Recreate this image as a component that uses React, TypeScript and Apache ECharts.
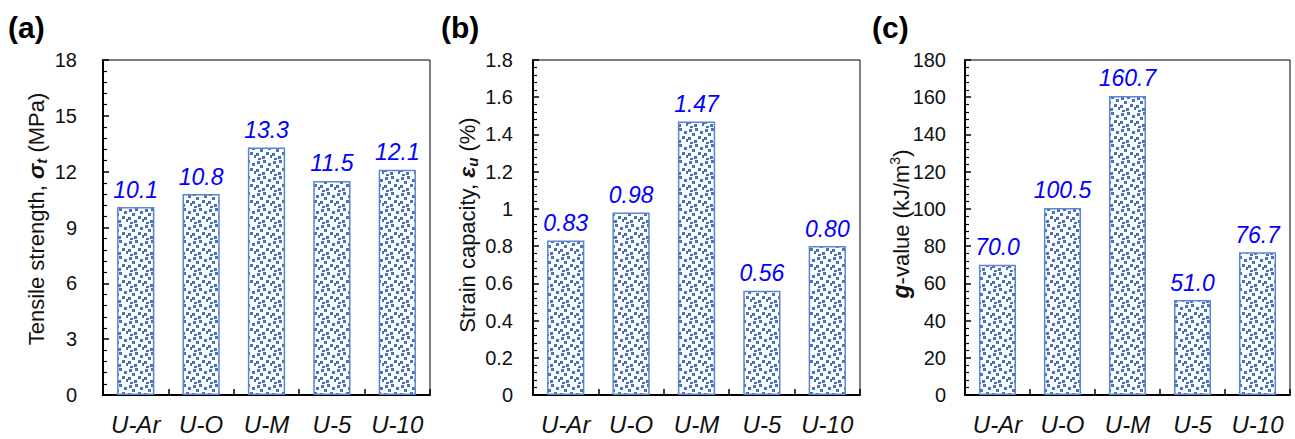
import React, { useEffect, useRef } from "react";
import * as echarts from "echarts";

// Specimen groups shared by all three panels
const categories = ["U-Ar", "U-O", "U-M", "U-5", "U-10"];

// (a) tensile strength, MPa
const tensileStrength = [10.1, 10.8, 13.3, 11.5, 12.1];
// (b) strain capacity, %
const strainCapacity = [0.83, 0.98, 1.47, 0.56, 0.8];
// (c) g-value, kJ/m3
const gValue = [70.0, 100.5, 160.7, 51.0, 76.7];

const FONT = "'Liberation Sans', Arial, Helvetica, sans-serif";
const BLUE = "#4472C4";

// Confetti fill used inside every bar
function makeConfetti(): HTMLCanvasElement {
  const c = document.createElement("canvas");
  c.width = 16;
  c.height = 16;
  const ctx = c.getContext("2d")!;
  ctx.fillStyle = "#ffffff";
  ctx.fillRect(0, 0, 16, 16);
  ctx.fillStyle = BLUE;
  const dots = [
    [1, 1], [7, 0], [12, 3], [4, 5], [10, 8], [0, 9], [14, 11], [6, 12], [2, 14],
  ];
  dots.forEach(([x, y]) => ctx.fillRect(x, y, 3, 3));
  return c;
}

export default function App() {
  const ref = useRef<HTMLDivElement>(null);

  useEffect(() => {
    if (!ref.current) return;
    const chart = echarts.init(ref.current, undefined, { renderer: "svg" });
    const pattern = { image: makeConfetti(), repeat: "repeat" } as any;

    const grids = [
      { left: 103, top: 60, width: 327, height: 335 },
      { left: 533, top: 60, width: 327, height: 335 },
      { left: 965, top: 60, width: 325, height: 335 },
    ];
    const yAxes = [
      { max: 18, interval: 3, margin: 26 },
      { max: 1.8, interval: 0.2, margin: 20 },
      { max: 180, interval: 20, margin: 19 },
    ];
    const seriesData = [tensileStrength, strainCapacity, gValue];
    const digits = [1, 2, 1];

    const axisText = { color: "#111", fontFamily: FONT };

    const titleRich = {
      n: { fontSize: 22, fontFamily: FONT, lineHeight: 26, fill: "#111" },
      s: { fontSize: 23, fontFamily: FONT, fontWeight: "bold", fontStyle: "italic", lineHeight: 26, fill: "#111" },
      sub: { fontSize: 15, fontFamily: FONT, fontWeight: "bold", fontStyle: "italic", lineHeight: 16, verticalAlign: "bottom", fill: "#111" },
      sup: { fontSize: 14, fontFamily: FONT, lineHeight: 14, verticalAlign: "top", fill: "#111" },
    };

    const option: any = {
      animation: false,
      backgroundColor: "#ffffff",
      grid: grids.map((g) => ({
        ...g,
        show: true,
        borderColor: "#000",
        borderWidth: 1,
        backgroundColor: "transparent",
      })),
      xAxis: grids.map((_, i) => ({
        type: "category",
        gridIndex: i,
        data: categories,
        boundaryGap: true,
        axisLine: { lineStyle: { color: "#000", width: 2 } },
        axisTick: { show: true, inside: true, length: 6, lineStyle: { color: "#000", width: 1.5 } },
        axisLabel: {
          ...axisText,
          fontSize: 24,
          fontStyle: "italic",
          margin: 17,
          interval: 0,
          hideOverlap: false,
        },
        splitLine: { show: false },
      })),
      yAxis: yAxes.map((y, i) => ({
        type: "value",
        gridIndex: i,
        min: 0,
        max: y.max,
        interval: y.interval,
        axisLine: { show: true, lineStyle: { color: "#000", width: 2 } },
        axisTick: { show: true, inside: true, length: 6, lineStyle: { color: "#000", width: 1.5 } },
        minorTick: { show: true, splitNumber: 5, length: 4, lineStyle: { color: "#000", width: 1.2 } },
        axisLabel: { ...axisText, fontSize: 20, margin: y.margin },
        splitLine: { show: false },
        minorSplitLine: { show: false },
      })),
      series: seriesData.map((d, i) => ({
        type: "bar",
        xAxisIndex: i,
        yAxisIndex: i,
        data: d,
        barWidth: "57%",
        itemStyle: { color: pattern, borderColor: "#5B85D0", borderWidth: 1.5 },
        label: {
          show: true,
          position: "top",
          distance: 6,
          color: "#0000FF",
          fontStyle: "italic",
          fontSize: 23,
          fontFamily: FONT,
          formatter: (p: any) => Number(p.value).toFixed(digits[i]),
        },
      })),
      graphic: [
        ...["(a)", "(b)", "(c)"].map((t, i) => ({
          type: "text",
          x: [8, 441, 872][i],
          y: 12,
          style: { text: t, fontSize: 30, fontWeight: "bold", fontFamily: FONT, fill: "#000" },
        })),
        {
          type: "text",
          x: 36,
          y: 219,
          rotation: Math.PI / 2,
          style: {
            text: "{n|Tensile strength, }{s|σ}{sub|t}{n| (MPa)}",
            align: "center",
            verticalAlign: "middle",
            fill: "#111",
            rich: titleRich,
          },
        },
        {
          type: "text",
          x: 467,
          y: 225,
          rotation: Math.PI / 2,
          style: {
            text: "{n|Strain capacity, }{s|ε}{sub|u}{n| (%)}",
            align: "center",
            verticalAlign: "middle",
            fill: "#111",
            rich: titleRich,
          },
        },
        {
          type: "text",
          x: 901,
          y: 224,
          rotation: Math.PI / 2,
          style: {
            text: "{s|g}{n|-value (kJ/m}{sup|3}{n|)}",
            align: "center",
            verticalAlign: "middle",
            fill: "#111",
            rich: titleRich,
          },
        },
      ],
    };

    chart.setOption(option);
    return () => chart.dispose();
  }, []);

  return (
    <div
      ref={ref}
      style={{ position: "fixed", left: 0, top: 0, width: 1295, height: 439, background: "#fff" }}
    />
  );
}
